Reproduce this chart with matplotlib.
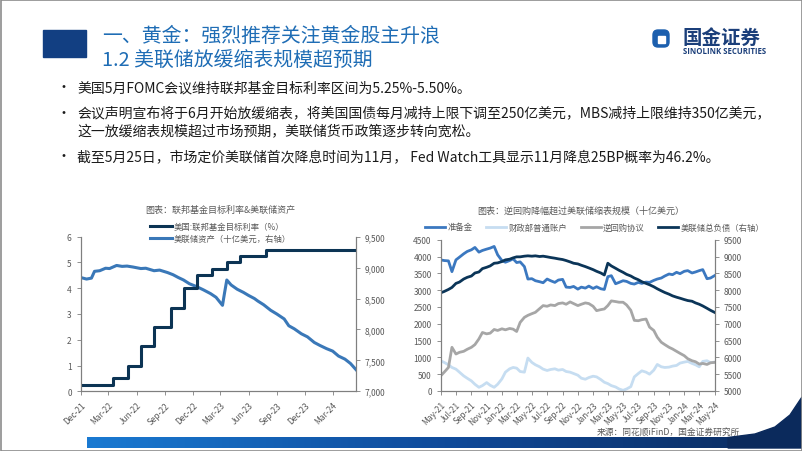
import matplotlib
matplotlib.use("Agg")
import matplotlib.pyplot as plt
import matplotlib.dates as mdates
from matplotlib.patches import Rectangle, Polygon, FancyBboxPatch
from matplotlib.colors import LinearSegmentedColormap
from matplotlib.ticker import FuncFormatter
import numpy as np
import pandas as pd

plt.rcParams['font.family'] = ['Noto Sans CJK SC', 'DejaVu Sans']

# ---- data: left chart ----
ff_dates = ['2021-12-01', '2022-03-17', '2022-05-05', '2022-06-16', '2022-07-28', '2022-09-22',
            '2022-11-03', '2022-12-15', '2023-02-02', '2023-03-23', '2023-05-04', '2023-07-27',
            '2024-05-16']
ff_rate = [0.25, 0.5, 1.0, 1.75, 2.5, 3.25, 4.0, 4.5, 4.75, 5.0, 5.25, 5.5, 5.5]

bs_dates = ['2021-12-01', '2021-12-20', '2022-01-05', '2022-01-15', '2022-02-01', '2022-02-20',
            '2022-03-05', '2022-03-28', '2022-04-15', '2022-05-01', '2022-05-20', '2022-06-15',
            '2022-07-01', '2022-07-28', '2022-08-15', '2022-09-10', '2022-09-28', '2022-10-15',
            '2022-11-01', '2022-11-20', '2022-12-15', '2023-01-05', '2023-01-28', '2023-02-15',
            '2023-03-08', '2023-03-15', '2023-03-22', '2023-04-05', '2023-04-25', '2023-05-15',
            '2023-06-01', '2023-06-20', '2023-07-01', '2023-07-20', '2023-08-12', '2023-09-01',
            '2023-09-25', '2023-10-10', '2023-10-28', '2023-11-20', '2023-12-10', '2024-01-01',
            '2024-01-20', '2024-02-10', '2024-03-01', '2024-03-20', '2024-04-10', '2024-04-28',
            '2024-05-16']
bs_assets = [8840, 8815, 8830, 8940, 8950, 8990, 8985, 9035, 9020, 9025, 9010, 8985,
             8990, 8950, 8960, 8920, 8885, 8840, 8800, 8740, 8690, 8640, 8580, 8520,
             8390, 8600, 8800, 8720, 8650, 8600, 8550, 8500, 8460, 8400, 8310, 8250,
             8170, 8060, 8010, 7930, 7880, 7790, 7740, 7690, 7650, 7570, 7520, 7450,
             7350]

# ---- data: right chart (semi-monthly, 2021-05-01 .. 2024-05-01) ----
r_dates = pd.date_range('2021-05-01', '2024-05-01', freq='SMS')
reserves = [3900, 3880, 3870, 3550, 3900, 3980, 4080, 4150, 4200, 4270, 4130, 4180,
            4220, 4250, 4300, 4050, 3880, 3830, 3880, 3930, 3820, 3840, 3700, 3330,
            3340, 3280, 3250, 3220, 3330, 3280, 3230, 3300, 3320, 3090, 3080, 3110,
            3030, 3090, 3060, 3120, 3050, 3100, 3040, 3020, 3400, 3430, 3190, 3230,
            3280, 3260, 3200, 3180, 3230, 3200, 3240, 3230, 3290, 3330, 3360, 3420,
            3480, 3460, 3530, 3490, 3560, 3580, 3510, 3540, 3580, 3610, 3340, 3360,
            3430]
tga = [900, 850, 780, 700, 650, 560, 450, 380, 300, 200, 110, 160,
       250, 170, 110, 200, 360, 560, 660, 700, 680, 580, 560, 980,
       850, 780, 720, 650, 610, 640, 660, 620, 640, 580, 560, 520,
       470, 380, 350, 400, 440, 420, 340, 260, 220, 160, 120, 60,
       20, 60, 130, 420, 520, 600, 560, 500, 620, 790, 720, 700,
       710, 740, 760, 830, 860, 880, 820, 780, 720, 880, 900, 840,
       860]
rrp = [450, 560, 700, 1300, 1100, 1150, 1180, 1240, 1300, 1380, 1550, 1740,
       1700, 1720, 1830, 1800, 1850, 1820, 1860, 1840, 1770, 2040, 2190, 2250,
       2300, 2340, 2450, 2540, 2520, 2560, 2540, 2600, 2620, 2580, 2650, 2600,
       2540, 2580, 2620, 2600, 2520, 2390, 2420, 2440, 2540, 2680, 2660, 2640,
       2640, 2560, 2400, 2100, 2090, 2120, 2140, 1900, 1800, 1600, 1450, 1380,
       1300, 1250, 1180, 1120, 1050, 960, 900, 870, 800, 820, 790, 840,
       850]
liabilities = [7920, 7960, 8020, 8080, 8200, 8240, 8330, 8380, 8420, 8510, 8540, 8640,
               8680, 8720, 8800, 8810, 8850, 8900, 8920, 8960, 8990, 8990, 9010, 9020,
               9010, 9020, 9000, 9010, 8990, 8970, 8950, 8930, 8910, 8880, 8840, 8800,
               8780, 8740, 8700, 8660, 8610, 8560, 8510, 8450, 8800, 8720, 8650, 8590,
               8530, 8470, 8420, 8360, 8310, 8250, 8200, 8160, 8100, 8040, 7980, 7930,
               7880, 7830, 7790, 7760, 7720, 7690, 7670, 7620, 7580, 7530, 7460, 7400,
               7340]

W, H = 802, 452
fig = plt.figure(figsize=(W / 100, H / 100), dpi=100)

# background layer in pixel coords
bg = fig.add_axes([0, 0, 1, 1])
bg.set_xlim(0, W)
bg.set_ylim(H, 0)
bg.axis('off')

bg.add_patch(Rectangle((43, 31), 43, 27, color='#123f82'))
title_c = '#1f6db5'
bg.text(102, 36, '一、黄金：强烈推荐关注黄金股主升浪', fontsize=14.3, color=title_c, va='center')
bg.text(102, 60.5, '1.2 美联储放缓缩表规模超预期', fontsize=14.3, color=title_c, va='center')

# logo
bg.add_patch(FancyBboxPatch((653, 31), 16, 17, boxstyle='round,pad=0,rounding_size=5', color='#1c5fae'))
bg.add_patch(Rectangle((657.5, 37), 7, 7, color='white'))
bg.text(683, 38, '国金证券', fontsize=14, fontweight='bold', color='#1b3f7a', va='center')
bg.text(683, 52, 'SINOLINK SECURITIES', fontsize=5.6, fontweight='bold', color='#1b3f7a',
        va='center', family=['Open Sans', 'DejaVu Sans'])

# bullets
txt_c = '#1a1a1a'
bullets = [
    (88, '美国5月FOMC会议维持联邦基金目标利率区间为5.25%-5.50%。', True),
    (113.5, '会议声明宣布将于6月开始放缓缩表，将美国国债每月减持上限下调至250亿美元，MBS减持上限维持350亿美元，', True),
    (131, '这一放缓缩表规模超过市场预期，美联储货币政策逐步转向宽松。', False),
    (157, '截至5月25日，市场定价美联储首次降息时间为11月， Fed Watch工具显示11月降息25BP概率为46.2%。', True),
]
for y, s, dot in bullets:
    if dot:
        bg.text(63, y, '•', fontsize=10, color=txt_c, va='center', ha='center')
    bg.text(77, y, s, fontsize=10, color=txt_c, va='center')

# chart titles and source
gc = '#595959'
bg.text(220, 210, '图表：联邦基金目标利率&美联储资产', fontsize=6.5, color=gc, ha='center', va='center')
bg.text(581, 211, '图表：逆回购降幅超过美联储缩表规模（十亿美元）', fontsize=6.5, color=gc, ha='center', va='center')
bg.text(740, 433, '来源：同花顺iFinD，国金证券研究所', fontsize=6.3, color=gc, ha='right', va='center')

# bottom band + swoosh
cmap = LinearSegmentedColormap.from_list('band', ['#1a7ad2', '#0f4a9a', '#0b2a5c'])
bg.imshow(np.linspace(0, 1, 256).reshape(1, -1), cmap=cmap, aspect='auto',
          extent=(87, W, 449, 438), zorder=1)
sw = [(728, 438.5), (755, 435), (775, 428), (790, 416), (802, 398), (802, 449), (728, 449)]
bg.add_patch(Polygon(sw, closed=True, color='#0b2a5c', zorder=2))
bg.add_patch(Rectangle((0.5, 0.5), W - 1, H - 1, fill=False, edgecolor='#8c8c8c', lw=1.2, zorder=5))
bg.set_xlim(0, W)
bg.set_ylim(H, 0)


def style_axes(a, ar):
    for sp in ['top']:
        a.spines[sp].set_visible(False)
        ar.spines[sp].set_visible(False)
    for sp in ['left', 'right', 'bottom']:
        a.spines[sp].set_color('#7f7f7f')
        ar.spines[sp].set_color('#7f7f7f')
        a.spines[sp].set_linewidth(0.8)
        ar.spines[sp].set_linewidth(0.8)
    for ax_ in (a, ar):
        ax_.tick_params(labelsize=6, colors='#7f7f7f', labelcolor=gc, length=3, width=0.6)


def fpos(x0, x1, y0, y1):
    return [x0 / W, (H - y1) / H, (x1 - x0) / W, (y1 - y0) / H]


# ---- left chart ----
ax1 = fig.add_axes(fpos(80.7, 356, 237.7, 392.3))
ax1r = ax1.twinx()
ax1.set_zorder(ax1r.get_zorder() + 1)
ax1.patch.set_visible(False)
l2, = ax1r.plot(pd.to_datetime(bs_dates), bs_assets, color='#3a78b8', lw=2.2)
l1, = ax1.plot(pd.to_datetime(ff_dates), ff_rate, color='#0c3454', lw=2.2, drawstyle='steps-post')
ax1.set_ylim(0, 6)
ax1.set_yticks(range(0, 7))
ax1r.set_ylim(7000, 9500)
ax1r.set_yticks(range(7000, 9501, 500))
ax1r.yaxis.set_major_formatter(FuncFormatter(lambda v, p: f'{int(v):,}'))
ax1.set_xlim(pd.Timestamp('2021-12-01'), pd.Timestamp('2024-05-16'))
ax1.xaxis.set_major_locator(mdates.MonthLocator(bymonth=[3, 6, 9, 12]))
ax1.xaxis.set_major_formatter(mdates.DateFormatter('%b-%y'))
style_axes(ax1, ax1r)
for lab in ax1.get_xticklabels():
    lab.set_rotation(45)
    lab.set_ha('right')
    lab.set_rotation_mode('anchor')
fig.legend([l1, l2], ['美国:联邦基金目标利率（%）', '美联储资产（十亿美元，右轴）'],
           loc='upper left', bbox_to_anchor=(146 / W, 1 - 219 / H), frameon=False,
           fontsize=6, handlelength=2.6, handletextpad=0.2, labelspacing=0.35,
           labelcolor=gc, borderpad=0)

# ---- right chart ----
ax2 = fig.add_axes(fpos(440.7, 714.5, 240.7, 392))
ax2r = ax2.twinx()
h1, = ax2.plot(r_dates, tga, color='#c6ddf1', lw=2)
h2, = ax2.plot(r_dates, rrp, color='#a6a6a6', lw=2)
h0, = ax2.plot(r_dates, reserves, color='#3b78c0', lw=2)
h3, = ax2r.plot(r_dates, liabilities, color='#0b3558', lw=2)
ax2.set_ylim(0, 4500)
ax2.set_yticks(range(0, 4501, 500))
ax2r.set_ylim(5000, 9500)
ax2r.set_yticks(range(5000, 9501, 500))
ax2.set_xlim(pd.Timestamp('2021-05-01'), pd.Timestamp('2024-05-01'))
ax2.xaxis.set_major_locator(mdates.MonthLocator(bymonth=[1, 3, 5, 7, 9, 11]))
ax2.xaxis.set_major_formatter(mdates.DateFormatter('%b-%y'))
style_axes(ax2, ax2r)
for lab in ax2.get_xticklabels():
    lab.set_rotation(45)
    lab.set_ha('right')
    lab.set_rotation_mode('anchor')
fig.legend([h0, h1, h2, h3], ['准备金', '财政部普通账户', '逆回购协议', '美联储总负债（右轴）'],
           loc='center left', bbox_to_anchor=(421 / W, 1 - 228 / H), frameon=False, ncol=4,
           fontsize=6, handlelength=2.4, handletextpad=0.3, columnspacing=1.6,
           labelcolor=gc, borderpad=0)

fig.savefig('out.png', dpi=100)
